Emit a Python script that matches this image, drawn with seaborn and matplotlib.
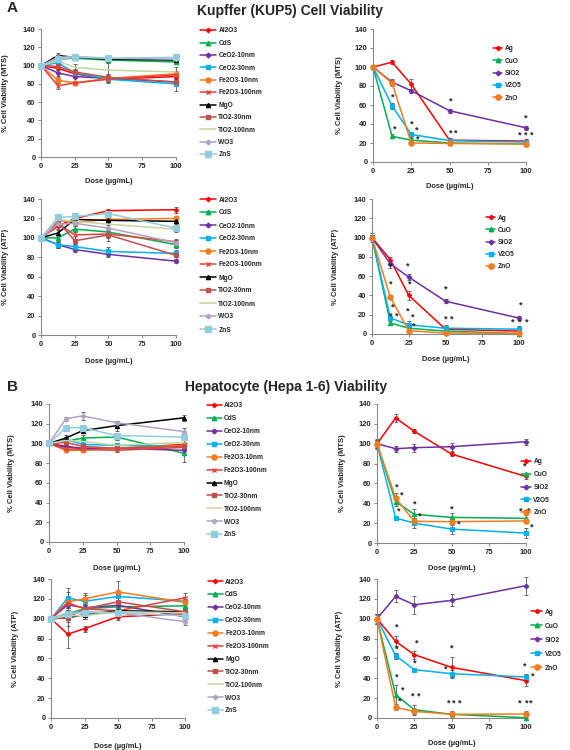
import matplotlib
matplotlib.use("Agg")
import matplotlib.pyplot as plt
import seaborn as sns
from matplotlib.lines import Line2D

# ---- data ----
doses = [0, 12.5, 25, 50, 100]

mild_np = ["Al2O3", "CdS", "CeO2-10nm", "CeO2-30nm", "Fe2O3-10nm", "Fe2O3-100nm",
           "MgO", "TiO2-30nm", "TiO2-100nm", "WO3", "ZnS"]
toxic_np = ["Ag", "CuO", "SiO2", "V2O5", "ZnO"]

# Kupffer, MTS
kup_mts_mild = {
    "Al2O3": [100, 97, 91, 85, 88], "CdS": [100, 107, 108, 106, 104],
    "CeO2-10nm": [100, 92, 88, 86, 82], "CeO2-30nm": [100, 103, 92, 85, 80],
    "Fe2O3-10nm": [100, 84, 81, 86, 91], "Fe2O3-100nm": [100, 78, 81, 85, 90],
    "MgO": [100, 111, 109, 107, 106], "TiO2-30nm": [100, 99, 93, 87, 82],
    "TiO2-100nm": [100, 105, 98, 95, 93], "WO3": [100, 109, 110, 108, 107],
    "ZnS": [100, 107, 109, 108, 109],
}
kup_mts_mild_err = {
    "Al2O3": [2, 2, 2, 3, 3], "CdS": [2, 2, 2, 2, 2], "CeO2-10nm": [2, 3, 2, 3, 3],
    "CeO2-30nm": [2, 3, 3, 4, 8], "Fe2O3-10nm": [2, 3, 2, 3, 3], "Fe2O3-100nm": [2, 4, 2, 3, 3],
    "MgO": [2, 3, 2, 2, 2], "TiO2-30nm": [2, 3, 3, 4, 4], "TiO2-100nm": [2, 3, 4, 8, 5],
    "WO3": [2, 2, 2, 2, 2], "ZnS": [2, 2, 2, 2, 2],
}
kup_mts_toxic = {
    "Ag": [100, 105, 82, 23, 22], "CuO": [100, 27, 23, 20, 19],
    "SiO2": [100, 84, 75, 54, 36], "V2O5": [100, 59, 29, 22.5, 21],
    "ZnO": [100, 83, 20, 19.5, 19],
}
kup_mts_toxic_err = {
    "Ag": [2, 2, 5, 2, 2], "CuO": [2, 2, 2, 1, 1], "SiO2": [2, 3, 2, 2, 2],
    "V2O5": [2, 3, 3, 2, 2], "ZnO": [2, 3, 2, 1, 1],
}
kup_mts_stars = [(12.7, 68), (14.2, 34.5), (25.6, 39.5), (28.7, 33.5), (28.9, 24),
                 (50.8, 64.5), (50.8, 31), (54.3, 31), (100, 46.5),
                 (96, 28), (100, 28), (104, 28)]

# Kupffer, ATP
kup_atp_mild = {
    "Al2O3": [100, 112, 120, 128, 129], "CdS": [100, 100, 109, 106, 93],
    "CeO2-10nm": [100, 93, 88, 83, 76], "CeO2-30nm": [100, 93, 91, 86, 84],
    "Fe2O3-10nm": [100, 118, 116, 119, 120], "Fe2O3-100nm": [100, 115, 103, 104, 96],
    "MgO": [100, 105, 119, 118, 117], "TiO2-30nm": [100, 117, 97, 103, 82],
    "TiO2-100nm": [100, 119, 117, 114, 109], "WO3": [100, 114, 115, 110, 95],
    "ZnS": [100, 121, 122, 125, 110],
}
kup_atp_mild_err = {
    "Al2O3": [3, 3, 3, 2, 3], "CdS": [3, 3, 3, 3, 3], "CeO2-10nm": [3, 3, 3, 3, 2],
    "CeO2-30nm": [3, 3, 3, 5, 3], "Fe2O3-10nm": [3, 3, 3, 3, 3], "Fe2O3-100nm": [3, 4, 4, 4, 3],
    "MgO": [3, 3, 3, 3, 3], "TiO2-30nm": [3, 4, 5, 6, 4], "TiO2-100nm": [3, 3, 3, 3, 3],
    "WO3": [3, 3, 3, 3, 3], "ZnS": [3, 3, 3, 3, 3],
}
kup_atp_toxic = {
    "Ag": [100, 77, 40, 5, 3], "CuO": [100, 11.4, 6, 3, 0.5],
    "SiO2": [100, 72.8, 59, 34, 16.5], "V2O5": [100, 16.5, 9.6, 6, 5],
    "ZnO": [100, 38, 3.4, 1, 0.7],
}
kup_atp_toxic_err = {
    "Ag": [5, 3, 5, 2, 1], "CuO": [3, 2, 2, 1, 1], "SiO2": [3, 4, 3, 2, 2],
    "V2O5": [3, 2, 4, 3, 3], "ZnO": [3, 2, 1, 1, 1],
}
kup_atp_stars = [(12.4, 70), (24.6, 70.7), (12.4, 51.7), (25.5, 52), (13.8, 27.6),
                 (24.2, 23.4), (12.9, 19), (16.9, 19), (27.5, 17.2), (28.2, 7.9),
                 (50.3, 46.5), (50.3, 15.5), (54, 15.5), (101, 29.7),
                 (96, 12), (100.5, 12), (105, 12)]

# Hepatocyte, MTS
hep_mts_mild = {
    "Al2O3": [100, 97, 95, 95, 99], "CdS": [100, 102, 105.5, 106.5, 90],
    "CeO2-10nm": [100, 96, 95, 95, 93], "CeO2-30nm": [100, 104, 99, 98, 97],
    "Fe2O3-10nm": [100, 93, 93, 95, 98], "Fe2O3-100nm": [100, 94, 94, 93, 96],
    "MgO": [100, 105.5, 113, 118, 126], "TiO2-30nm": [100, 101, 97, 95, 97],
    "TiO2-100nm": [100, 103, 102, 98, 101], "WO3": [100, 125, 128, 121, 112],
    "ZnS": [100, 116, 116, 108, 106.5],
}
hep_mts_mild_err = {
    "Al2O3": [2, 2, 2, 2, 2], "CdS": [2, 3, 3, 3, 9], "CeO2-10nm": [2, 2, 2, 2, 2],
    "CeO2-30nm": [2, 3, 2, 2, 2], "Fe2O3-10nm": [2, 2, 2, 2, 2], "Fe2O3-100nm": [2, 2, 2, 2, 2],
    "MgO": [2, 3, 2, 5, 3], "TiO2-30nm": [2, 2, 2, 2, 2], "TiO2-100nm": [2, 2, 2, 2, 2],
    "WO3": [2, 2, 4, 2, 4], "ZnS": [2, 3, 3, 3, 3],
}
hep_mts_toxic = {
    "Ag": [100, 125.9, 112.5, 89.6, 67], "CuO": [100, 41.6, 28.9, 25.8, 24.8],
    "SiO2": [100, 95, 96, 97, 102], "V2O5": [100, 25.2, 20, 14, 10],
    "ZnO": [100, 45.3, 21.8, 21.5, 22.2],
}
hep_mts_toxic_err = {
    "Ag": [5, 4, 2, 2, 3], "CuO": [4, 4, 5, 4, 3], "SiO2": [3, 3, 4, 4, 3],
    "V2O5": [4, 2, 5, 5, 5], "ZnO": [4, 5, 3, 3, 2],
}
hep_mts_stars = [(13.5, 56.4), (16.4, 48), (14.4, 32.6), (25.4, 39.6), (28.8, 26.9),
                 (50.1, 34.6), (54.6, 19), (99, 78), (96.6, 31.9), (101.8, 31.9), (104, 15.8)]

# Hepatocyte, ATP
hep_atp_mild = {
    "Al2O3": [100, 84.5, 90, 102, 105], "CdS": [100, 105, 110, 112, 113],
    "CeO2-10nm": [100, 114, 111, 113.5, 102], "CeO2-30nm": [100, 121, 117.5, 122.5, 117.5],
    "Fe2O3-10nm": [100, 117, 120, 127, 116.5], "Fe2O3-100nm": [100, 116, 110, 108, 121],
    "MgO": [100, 101, 104, 108, 107], "TiO2-30nm": [100, 101, 110, 117, 107],
    "TiO2-100nm": [100, 103, 103, 107, 106], "WO3": [100, 106, 107, 106, 97],
    "ZnS": [100, 105, 106, 106, 103],
}
hep_atp_mild_err = {
    "Al2O3": [3, 14, 3, 3, 3], "CdS": [3, 3, 3, 3, 3], "CeO2-10nm": [3, 3, 3, 3, 3],
    "CeO2-30nm": [3, 10, 6, 5, 4], "Fe2O3-10nm": [3, 10, 6, 11, 5], "Fe2O3-100nm": [3, 4, 4, 4, 5],
    "MgO": [3, 8, 4, 3, 3], "TiO2-30nm": [3, 4, 5, 4, 3], "TiO2-100nm": [3, 3, 3, 3, 3],
    "WO3": [3, 3, 3, 3, 3], "ZnS": [3, 3, 3, 3, 3],
}
hep_atp_toxic = {
    "Ag": [100, 77.2, 63.8, 51, 37.6], "CuO": [100, 23.5, 8.4, 3.7, 0.3],
    "SiO2": [100, 122.5, 114, 118.5, 133.3], "V2O5": [100, 62.8, 48.7, 44.6, 41.3],
    "ZnO": [100, 10.7, 6.7, 3.7, 4],
}
hep_atp_toxic_err = {
    "Ag": [5, 5, 4, 10, 5], "CuO": [5, 10, 5, 3, 2], "SiO2": [5, 6, 9, 6, 9],
    "V2O5": [4, 3, 2, 4, 3], "ZnO": [5, 3, 3, 2, 3],
}
hep_atp_stars = [(13.5, 91.5), (26.5, 75.5), (50.1, 70.5), (13.5, 69.5), (25.4, 55.4),
                 (46.3, 49.7), (99, 52), (104.7, 42.6), (13.5, 41), (17, 27.9),
                 (15.3, 16.8), (23.8, 21.8), (28.3, 21.8), (47.9, 15), (51.7, 15),
                 (55.3, 15), (95.7, 15), (100.2, 15), (103.4, 15)]

# ---- styles: colour, marker, marker size ----
styles = {
    "Al2O3": ("#FF0000", "D", 2.2), "CdS": ("#00B050", "^", 3.2),
    "CeO2-10nm": ("#7030A0", "D", 2.4), "CeO2-30nm": ("#00B0F0", "s", 3.0),
    "Fe2O3-10nm": ("#F47C20", "o", 3.6), "Fe2O3-100nm": ("#E4403C", "x", 3.4),
    "MgO": ("#000000", "^", 3.0), "TiO2-30nm": ("#C0504D", "s", 3.0),
    "TiO2-100nm": ("#C3D69B", "", 0), "WO3": ("#B3A2C7", "D", 2.4),
    "ZnS": ("#93CDDD", "s", 4.2),
    "Ag": ("#FF0000", "D", 2.2), "CuO": ("#00B050", "^", 3.2),
    "SiO2": ("#7030A0", "D", 2.4), "V2O5": ("#00B0F0", "s", 3.2),
    "ZnO": ("#F47C20", "o", 3.8),
}

sns.set_style("ticks")
plt.rcParams["font.family"] = ["Liberation Sans", "DejaVu Sans"]
plt.rcParams["font.weight"] = "bold"

W, H = 570, 750
fig = plt.figure(figsize=(W / 100, H / 100), dpi=100)


def px_axes(x0, y0, x1, y1):
    return fig.add_axes([x0 / W, 1 - y1 / H, (x1 - x0) / W, (y1 - y0) / H])


def draw_panel(ax, names, values, errors, stars, ylab, ylab_x, xlab_y,
               leg_x, leg_y, pitch, hlen):
    for name in names:
        color, marker, ms = styles[name]
        ax.errorbar(doses, values[name], yerr=errors[name], fmt="none",
                    ecolor="#555555", elinewidth=0.6, capsize=1.4, capthick=0.6,
                    clip_on=False, zorder=2)
        sns.lineplot(x=doses, y=values[name], ax=ax, color=color, marker=marker or None,
                     markersize=ms, markeredgecolor=color, markeredgewidth=0.8,
                     linewidth=1.1, clip_on=False, zorder=3)
    for sx, sy in stars:
        ax.text(sx, sy, "*", ha="center", va="center", fontsize=6.5,
                fontweight="bold", color="#222222")
    ax.set_xlim(0, 100)
    ax.set_ylim(0, 140)
    ax.set_xticks([0, 25, 50, 75, 100])
    ax.set_yticks(range(0, 141, 20))
    ax.tick_params(labelsize=5.4, length=2.5, width=0.7, color="#888888", pad=1.5)
    for lab in ax.get_xticklabels() + ax.get_yticklabels():
        lab.set_fontweight("bold")
    sns.despine(ax=ax)
    for sp in ("left", "bottom"):
        ax.spines[sp].set_color("#888888")
        ax.spines[sp].set_linewidth(0.8)
    ax.set_ylabel(ylab, fontsize=5.5, fontweight="bold")
    ax.set_xlabel("Dose (µg/mL)", fontsize=5.4, fontweight="bold")
    ax.yaxis.set_label_coords(ylab_x, 0.5)
    ax.xaxis.set_label_coords(0.5, xlab_y)

    handles = []
    for name in names:
        color, marker, ms = styles[name]
        handles.append(Line2D([], [], color=color, marker=marker or None, markersize=ms,
                              markeredgecolor=color, lw=1.1, label=name))
    fs = 4.8
    fs_px = fs * 100 / 72
    row_h = 1.05 * fs_px
    labelspacing = (pitch - row_h) / fs_px
    ax.legend(handles=handles, loc="upper left",
              bbox_to_anchor=(leg_x / W, 1 - (leg_y - row_h / 2) / H),
              bbox_transform=fig.transFigure, frameon=False, borderpad=0,
              borderaxespad=0, fontsize=fs, handlelength=hlen, handletextpad=0.35,
              labelspacing=labelspacing, prop={"weight": "bold", "size": fs})


# panel A: Kupffer
ax = px_axes(41, 29, 176, 157)
draw_panel(ax, mild_np, kup_mts_mild, kup_mts_mild_err, [], "% Cell Viability (MTS)",
           -0.24, -0.164, 200, 31, 12.4, 2.4)
ax = px_axes(373, 29, 526, 162)
draw_panel(ax, toxic_np, kup_mts_toxic, kup_mts_toxic_err, kup_mts_stars,
           "% Cell Viability (MTS)", -0.196, -0.158, 493, 49, 12.25, 1.4)
ax = px_axes(41, 199, 176, 335)
draw_panel(ax, mild_np, kup_atp_mild, kup_atp_mild_err, [], "% Cell Viability (ATP)",
           -0.24, -0.169, 200, 200, 13, 2.4)
ax = px_axes(372, 199, 519, 334)
draw_panel(ax, toxic_np, kup_atp_toxic, kup_atp_toxic_err, kup_atp_stars,
           "% Cell Viability (ATP)", -0.224, -0.163, 486, 218, 12.25, 1.4)

# panel B: Hepatocyte
ax = px_axes(49, 404, 184, 542)
draw_panel(ax, mild_np, hep_mts_mild, hep_mts_mild_err, [], "% Cell Viability (MTS)",
           -0.255, -0.167, 207, 406, 12.9, 2.2)
ax = px_axes(377, 404, 526, 543)
draw_panel(ax, toxic_np, hep_mts_toxic, hep_mts_toxic_err, hep_mts_stars,
           "% Cell Viability (MTS)", -0.208, -0.16, 521, 462, 12.75, 1.5)
ax = px_axes(51, 579, 185, 718)
draw_panel(ax, mild_np, hep_atp_mild, hep_atp_mild_err, [], "% Cell Viability (ATP)",
           -0.24, -0.18, 208, 582, 12.9, 2.2)
ax = px_axes(377, 579, 526, 718)
draw_panel(ax, toxic_np, hep_atp_toxic, hep_atp_toxic_err, hep_atp_stars,
           "% Cell Viability (ATP)", -0.228, -0.158, 531, 612, 14, 1.7)

fig.text(7 / W, 1 - 8 / H, "A", fontsize=11, fontweight="bold", va="center")
fig.text(290 / W, 1 - 11 / H, "Kupffer (KUP5) Cell Viability", fontsize=10,
         fontweight="bold", ha="center", va="center")
fig.text(7 / W, 1 - 387 / H, "B", fontsize=11, fontweight="bold", va="center")
fig.text(286 / W, 1 - 387 / H, "Hepatocyte (Hepa 1-6) Viability", fontsize=10,
         fontweight="bold", ha="center", va="center")

fig.savefig("out.png", dpi=100, facecolor="white")
